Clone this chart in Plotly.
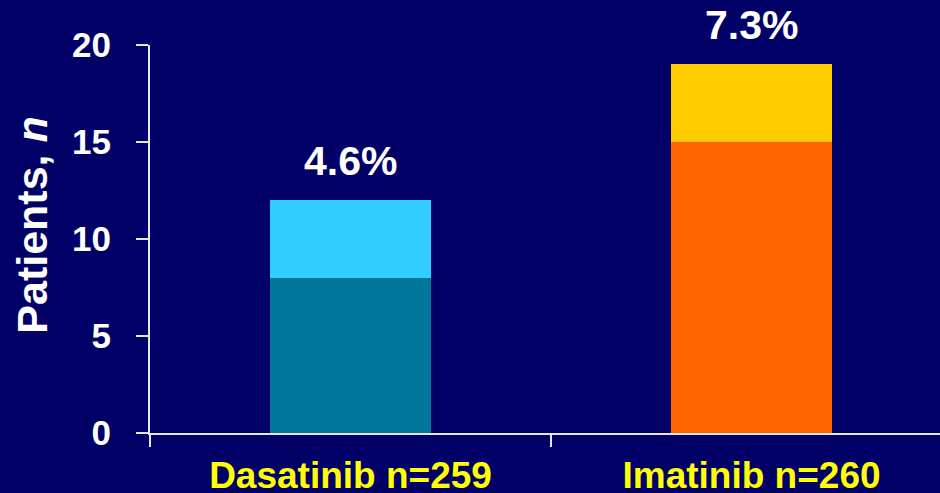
import plotly.graph_objects as go

# Patient counts per treatment arm, split into two stacked segments
arms = ["Dasatinib n=259", "Imatinib n=260"]
lower_counts = [8, 15]
upper_counts = [4, 4]
pct_labels = ["4.6%", "7.3%"]
y_title = "Patients, <i>n</i>"

lower_colors = ["#007799", "#FF6600"]
upper_colors = ["#33CCFF", "#FFCC00"]

y_ticks = [0, 5, 10, 15, 20]

BG = "#000066"
FONT = "Arial, Liberation Sans, sans-serif"

positions = list(range(len(arms)))
totals = [a + b for a, b in zip(lower_counts, upper_counts)]

fig = go.Figure()
fig.add_trace(go.Bar(x=positions, y=lower_counts, marker_color=lower_colors,
                     marker_line_width=0, width=0.4, hoverinfo="skip"))
fig.add_trace(go.Bar(x=positions, y=upper_counts, marker_color=upper_colors,
                     marker_line_width=0, width=0.4, hoverinfo="skip"))

# Percentage labels above each stack
for xi, tot, lab in zip(positions, totals, pct_labels):
    fig.add_annotation(x=xi, y=tot, xref="x", yref="y", text=lab,
                       showarrow=False, yanchor="bottom", yshift=14,
                       font=dict(family=FONT, size=41, color="white",
                                 weight="bold"))

# Rotated y-axis title
fig.add_annotation(x=-0.149, y=0.535, xref="paper", yref="paper",
                   text=y_title, textangle=-90, showarrow=False,
                   xanchor="center", yanchor="middle",
                   font=dict(family=FONT, size=43, color="white", weight="bold"))

fig.update_layout(
    width=940, height=493,
    margin=dict(l=150, r=0, t=45, b=60),
    paper_bgcolor=BG, plot_bgcolor=BG,
    barmode="stack", showlegend=False, bargap=0,
    font=dict(family=FONT, color="white", weight="bold"),
)

fig.update_xaxes(
    range=[-0.5, 1.47], automargin=False,
    tickmode="array", tickvals=positions, ticktext=arms,
    ticks="", ticklabelstandoff=9,
    tickfont=dict(family=FONT, size=37, color="#FFFF00", weight="bold"),
    showline=True, linecolor="#E6E6E6", linewidth=2,
    showgrid=False, zeroline=False,
    minor=dict(tick0=-0.5, dtick=1, ticks="outside", ticklen=12,
               tickwidth=2, tickcolor="#E6E6E6", showgrid=False),
)

fig.update_yaxes(
    range=[0, 20], automargin=False,
    tickmode="array", tickvals=y_ticks,
    ticks="outside", ticklen=12, tickwidth=2, tickcolor="#E6E6E6",
    ticklabelstandoff=18,
    tickfont=dict(family=FONT, size=35, color="white", weight="bold"),
    showline=True, linecolor="#E6E6E6", linewidth=2,
    showgrid=False, zeroline=False,
)

fig.write_html("out.html")
